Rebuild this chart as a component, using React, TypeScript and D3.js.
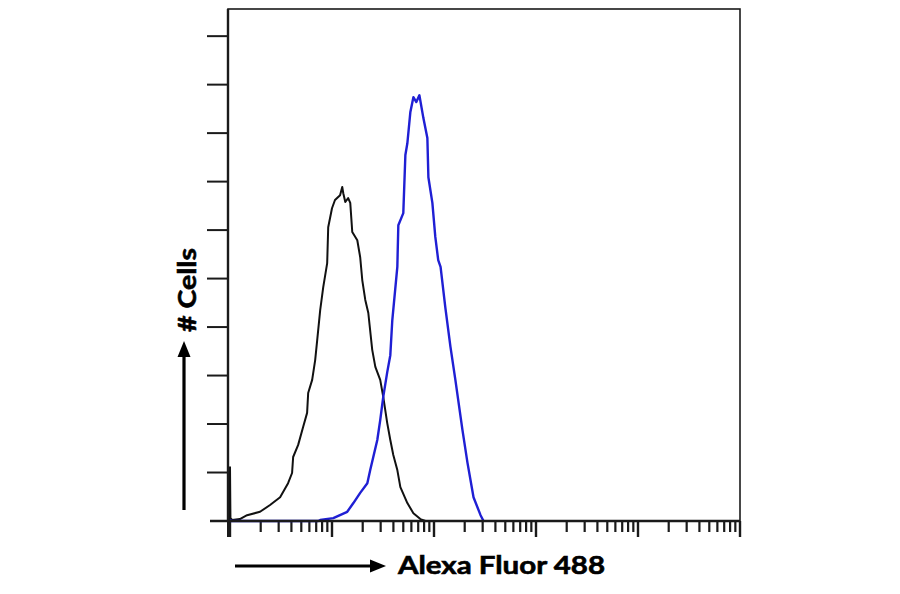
import * as d3 from 'd3'

// isotype control (black) histogram, fluorescence vs cell count
const controlFluor = [1, 1, 1.01, 1.05, 1.25, 1.47, 1.97, 2.47, 3.1, 3.71, 4.06, 4.16, 4.66, 5.21, 5.7, 5.84, 6.39, 6.84, 7.16, 7.66, 8.2, 8.97, 9.18, 10.0, 10.7, 12.0, 12.6, 12.9, 13.5, 14.4, 15.1, 15.8, 17.7, 18.9, 19.8, 21.2, 22.7, 24.8, 26.6, 29.7, 31.8, 34.8, 37.3, 39.9, 43.7, 46.8, 54.8, 62.8, 73.5, 82.4]
const controlCounts = [0, 11.1, 0.6, 0.2, 0.4, 1.2, 1.9, 3.3, 4.9, 7.8, 9.9, 13.2, 15.7, 19.4, 22.3, 26.4, 29.1, 33.2, 37.3, 43.5, 48.2, 53.2, 60.6, 64.5, 66.2, 67.2, 68.9, 67.6, 65.8, 66.6, 65.6, 59.6, 57.9, 54.4, 49.7, 45.6, 42.9, 35.3, 31.8, 29.1, 25.6, 20.2, 16.7, 13.6, 10.5, 7.0, 3.7, 1.6, 0.4, 0]

// antibody stained (blue) histogram
const stainedFluor = [1, 1.02, 7.32, 7.66, 10.3, 14.1, 16.2, 18.9, 22.2, 23.7, 25.4, 27.8, 29.7, 31.8, 34.8, 37.3, 39.0, 43.7, 44.7, 50.0, 52.4, 54.8, 58.6, 62.8, 67.1, 71.9, 78.7, 86.1, 88.1, 96.4, 103, 110, 116, 129, 145, 162, 190, 213, 244, 286, 306]
const stainedCounts = [0.3, 0, 0, 0.2, 0.6, 1.9, 3.7, 5.8, 7.8, 10.5, 13.2, 16.7, 20.8, 25.6, 30.7, 34.2, 41.4, 52.4, 61.0, 63.5, 75.5, 77.9, 84.3, 87.4, 86.4, 87.8, 83.1, 79.0, 70.9, 65.6, 58.6, 53.8, 52.4, 44.1, 35.9, 29.1, 18.8, 12.0, 4.9, 1.2, 0]

const yTicks = [0, 10, 20, 30, 40, 50, 60, 70, 80, 90, 100]
const xDecades = [1, 10, 100, 1000, 10000, 100000]
const xMinor = [2, 3, 4, 5, 6, 7, 8, 9]

const W = 900, H = 594
const frame = { left: 228, right: 740, top: 9, bottom: 521 }

export default function App() {
  const x = d3.scaleLog().domain([1, 1e5]).range([230, 740])
  const y = d3.scaleLinear().domain([0, 105.6]).range([frame.bottom, frame.top])

  const line = d3.line<[number, number]>()
    .x(d => x(d[0]))
    .y(d => y(d[1]))

  const control = controlFluor.map((v, i) => [v, controlCounts[i]] as [number, number])
  const stained = stainedFluor.map((v, i) => [v, stainedCounts[i]] as [number, number])

  const minorTicks: number[] = []
  xDecades.slice(0, -1).forEach(d => xMinor.forEach(m => minorTicks.push(d * m)))

  const axisColor = '#1a1a1a'
  const font = 'Lato, "Liberation Sans", Arial, sans-serif'

  return (
    <svg width={W} height={H} style={{ position: 'absolute', left: 0, top: 0, background: '#fff' }}>
      <rect x={0} y={0} width={W} height={H} fill="#fff" />

      {/* y ticks */}
      {yTicks.map(t => (
        <line key={`y${t}`} x1={t === 0 ? 210 : 207} x2={frame.left} y1={y(t)} y2={y(t)}
          stroke={axisColor} strokeWidth={2} />
      ))}

      {/* x ticks */}
      {xDecades.map(t => (
        <line key={`xd${t}`} x1={x(t)} x2={x(t)} y1={frame.bottom} y2={frame.bottom + 16}
          stroke={axisColor} strokeWidth={2.4} />
      ))}
      {minorTicks.map(t => (
        <line key={`xm${t}`} x1={x(t)} x2={x(t)} y1={frame.bottom} y2={frame.bottom + 11}
          stroke={axisColor} strokeWidth={2.2} />
      ))}
      <line x1={frame.left} x2={frame.left} y1={frame.bottom} y2={frame.bottom + 16}
        stroke={axisColor} strokeWidth={2} />

      {/* curves */}
      <path d={line(control) ?? ''} fill="none" stroke="#111" strokeWidth={2} strokeLinejoin="round" />
      <path d={line(stained) ?? ''} fill="none" stroke="#1f1fd4" strokeWidth={2.4} strokeLinejoin="round" />

      {/* frame */}
      <rect x={frame.left} y={frame.top} width={frame.right - frame.left} height={frame.bottom - frame.top}
        fill="none" stroke={axisColor} strokeWidth={1.6} />
      <line x1={frame.left} x2={frame.left} y1={frame.top} y2={frame.bottom} stroke={axisColor} strokeWidth={2.4} />
      <line x1={210} x2={frame.right} y1={frame.bottom} y2={frame.bottom} stroke={axisColor} strokeWidth={2.4} />

      {/* x label with arrow */}
      <line x1={235} x2={372} y1={566} y2={566} stroke="#000" strokeWidth={3.2} />
      <path d="M386,566 L370,559.5 L370,572.5 Z" fill="#000" />
      <text x={398} y={574} fontFamily={font} fontWeight="bold" fontSize={25} stroke="#000" strokeWidth={0.6}
        textLength={207} lengthAdjust="spacingAndGlyphs" fill="#000">Alexa Fluor 488</text>

      {/* y label with arrow */}
      <line x1={184} x2={184} y1={510} y2={356} stroke="#000" strokeWidth={3.2} />
      <path d="M184,341 L177.5,357 L190.5,357 Z" fill="#000" />
      <text transform="translate(196,332) rotate(-90)" fontFamily={font} fontWeight="bold" fontSize={25}
        stroke="#000" strokeWidth={0.6}
        textLength={84} lengthAdjust="spacingAndGlyphs" fill="#000"># Cells</text>
    </svg>
  )
}
